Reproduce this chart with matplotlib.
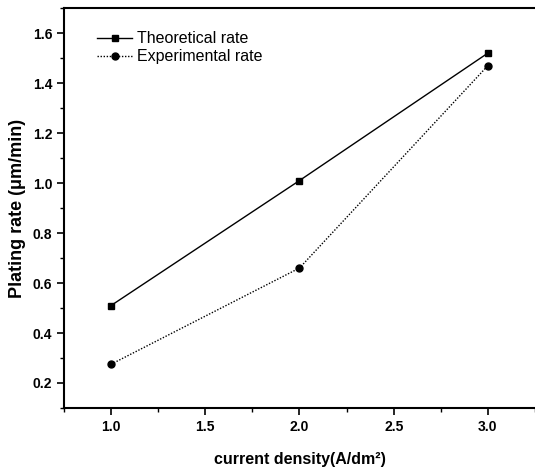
import matplotlib
matplotlib.use('Agg')
import matplotlib.pyplot as plt
from matplotlib.ticker import MultipleLocator

# data
current_density = [1.0, 2.0, 3.0]
theoretical_rate = [0.51, 1.01, 1.52]
experimental_rate = [0.275, 0.66, 1.47]

plt.rcParams['font.family'] = ['Liberation Sans', 'DejaVu Sans']

fig = plt.figure(figsize=(5.35, 4.76), dpi=100)
ax = fig.add_axes([0.1196, 0.1429, 0.8804, 0.8401])

ax.plot(current_density, theoretical_rate, color='black', lw=1.0,
        marker='s', ms=5, label='Theoretical rate')
ax.plot(current_density, experimental_rate, color='black', lw=1.0,
        linestyle=(0, (1, 1.2)), marker='o', ms=5, label='Experimental rate')

ax.set_xlim(0.75, 3.25)
ax.set_ylim(0.1, 1.7)
ax.xaxis.set_major_locator(MultipleLocator(0.5))
ax.xaxis.set_minor_locator(MultipleLocator(0.25))
ax.yaxis.set_major_locator(MultipleLocator(0.2))
ax.yaxis.set_minor_locator(MultipleLocator(0.1))
ax.tick_params(which='major', direction='out', length=5, width=1.2)
ax.tick_params(which='minor', direction='out', length=3, width=1.0)
for lab in ax.get_xticklabels() + ax.get_yticklabels():
    lab.set_fontweight('bold')
    lab.set_fontsize(10)

for s in ['left', 'bottom', 'top']:
    ax.spines[s].set_linewidth(1.5)
ax.spines['right'].set_visible(False)

ax.set_ylabel('Plating rate (μm/min)', fontsize=13, fontweight='bold', labelpad=5)
ax.set_xlabel('current density(A/dm²)', fontsize=11.5, fontweight='bold', labelpad=13)

ax.legend(loc='upper left', frameon=False, fontsize=11.5, handlelength=2.2,
          handletextpad=0.3, labelspacing=0.2, borderaxespad=0.8,
          bbox_to_anchor=(0.03, 0.99))

fig.savefig('out.png', dpi=100)
